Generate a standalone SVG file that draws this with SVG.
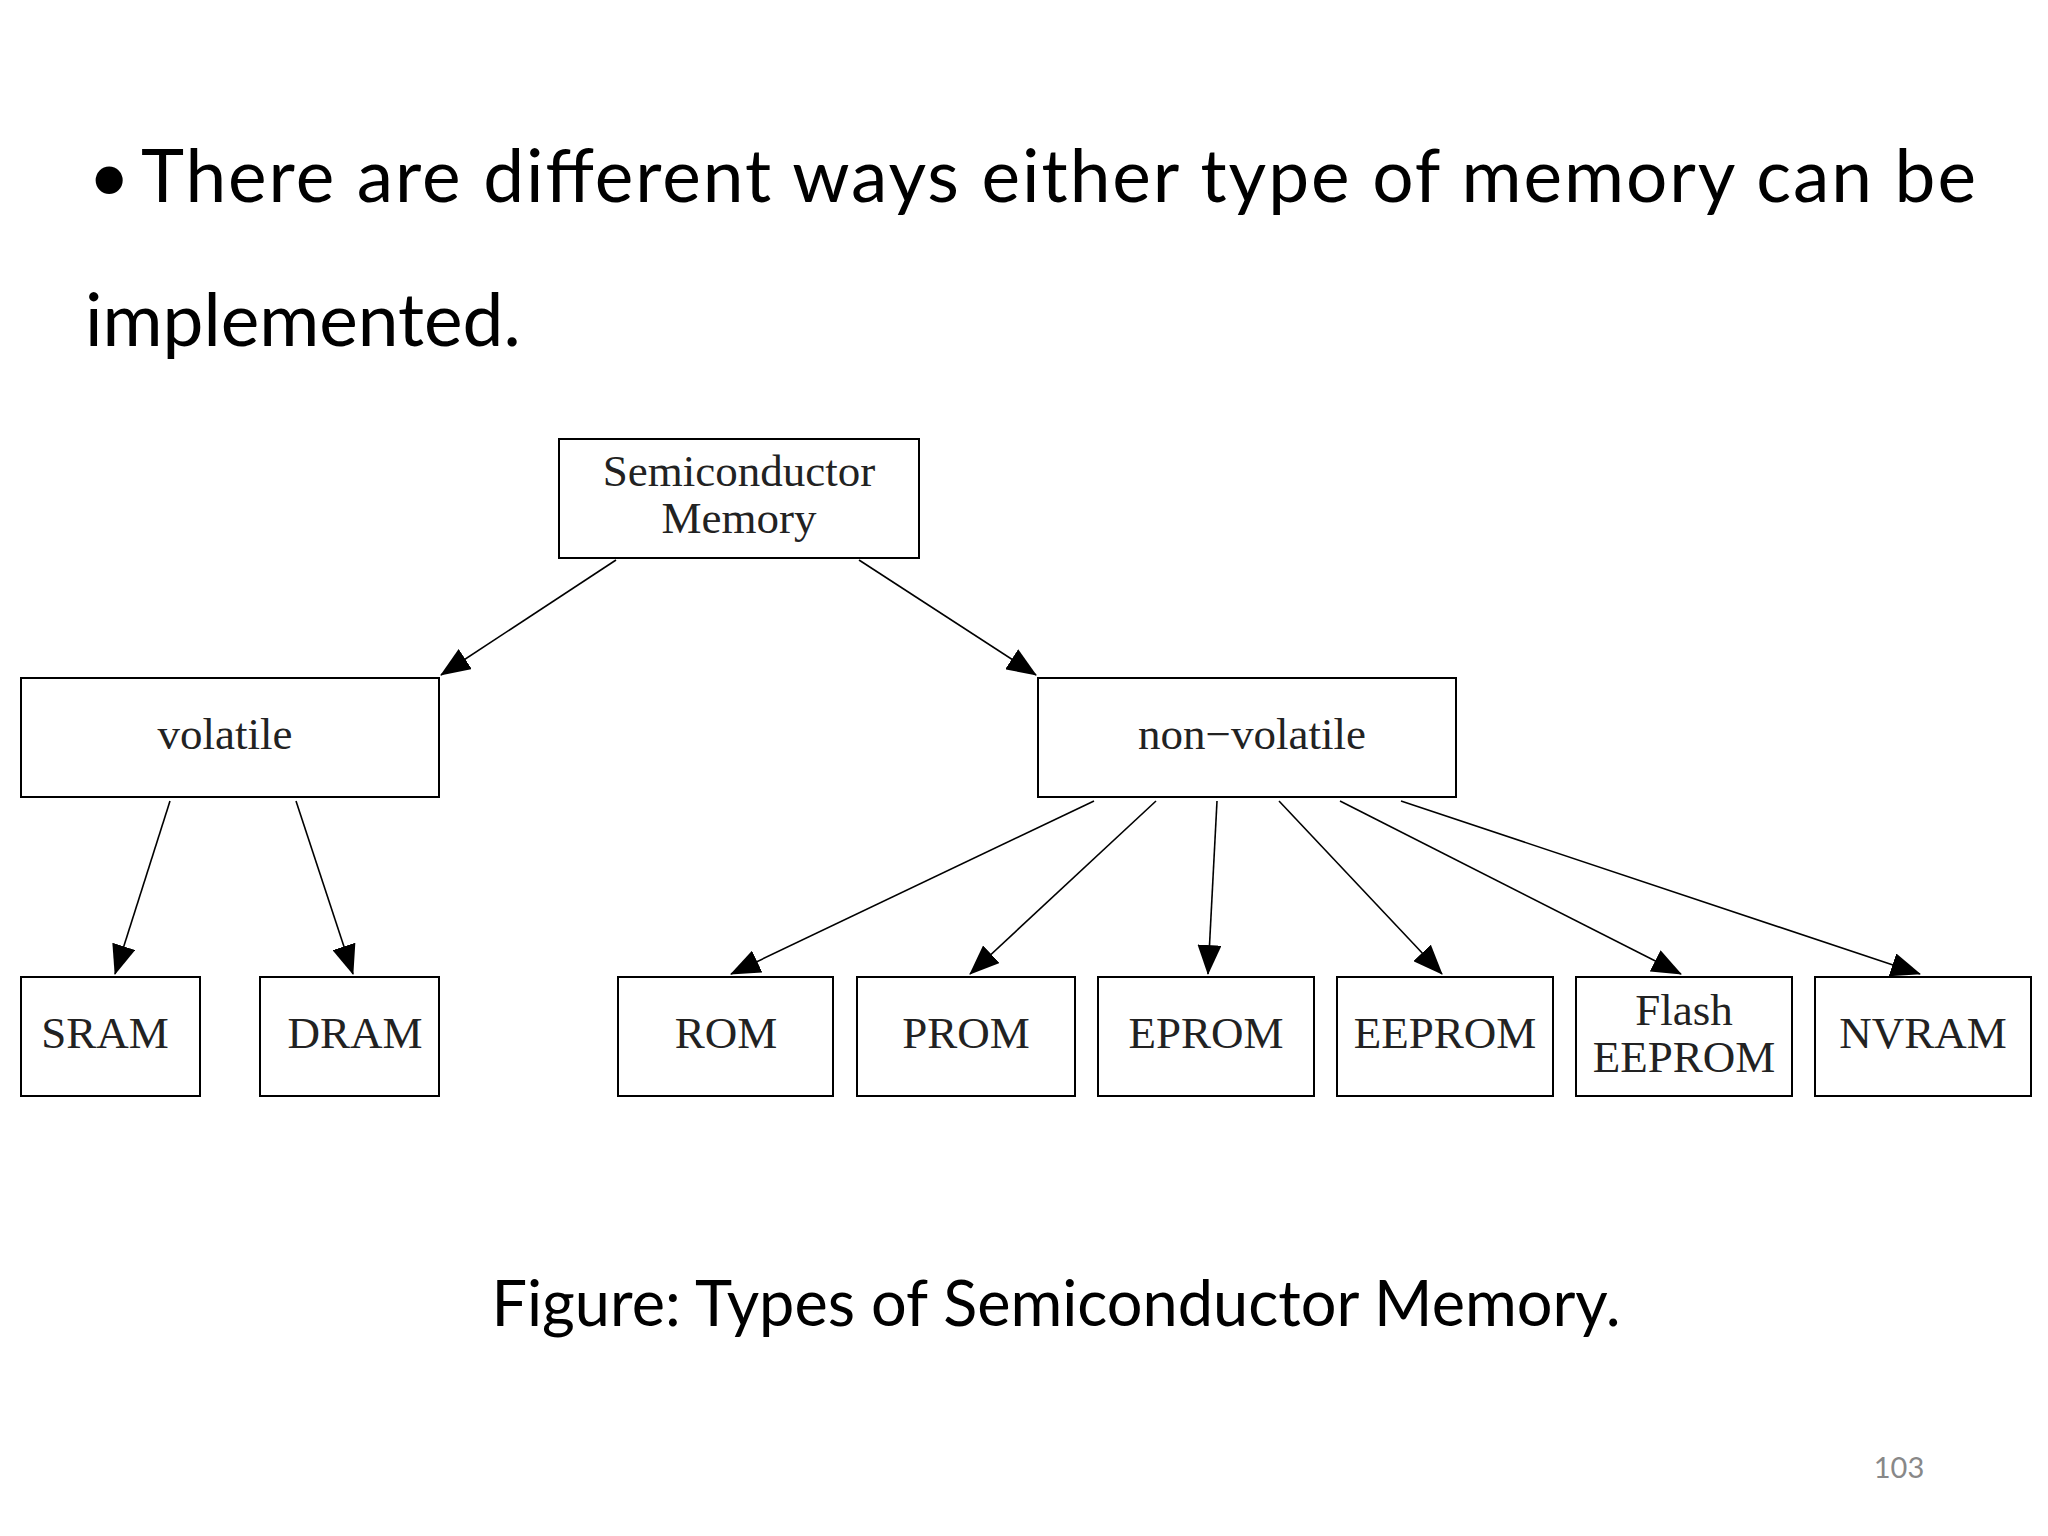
<svg xmlns="http://www.w3.org/2000/svg" width="2048" height="1536" viewBox="0 0 2048 1536">
<style>
.b{fill:#fff;stroke:#000;stroke-width:2}
.t{font-family:"Liberation Serif",serif;font-size:45px;fill:#222;text-anchor:middle}
.h{font-family:Lato,"Open Sans",sans-serif;fill:#000}
.c line{stroke:#000;stroke-width:1.6;marker-end:url(#a)}
</style>
<defs><marker id="a" markerWidth="12" markerHeight="10" refX="11" refY="5" orient="auto" markerUnits="userSpaceOnUse" viewBox="0 0 12 10"><path d="M0,0L12,5L0,10z" fill="#000"/></marker>
<marker id="a2" markerWidth="30" markerHeight="24" refX="29" refY="12" orient="auto" markerUnits="userSpaceOnUse"><path d="M0,0L30,12L0,24z" fill="#000"/></marker></defs>
<rect width="2048" height="1536" fill="#fff"/>
<text class="h" x="88" y="202" font-size="73">•</text>
<text class="h" x="141" y="202" font-size="73" textLength="1835" lengthAdjust="spacing">There are different ways either type of memory can be</text>
<text class="h" x="85" y="346" font-size="73">implemented.</text>
<g class="c" id="connectors">
<line x1="616" y1="560" x2="441" y2="675" style="marker-end:url(#a2)"/>
<line x1="859" y1="560" x2="1036" y2="675" style="marker-end:url(#a2)"/>
<line x1="170" y1="801" x2="115" y2="974" style="marker-end:url(#a2)"/>
<line x1="296" y1="801" x2="353" y2="974" style="marker-end:url(#a2)"/>
<line x1="1094" y1="801" x2="731" y2="974" style="marker-end:url(#a2)"/>
<line x1="1156" y1="801" x2="970" y2="974" style="marker-end:url(#a2)"/>
<line x1="1217" y1="801" x2="1208" y2="974" style="marker-end:url(#a2)"/>
<line x1="1279" y1="801" x2="1442" y2="974" style="marker-end:url(#a2)"/>
<line x1="1340" y1="801" x2="1681" y2="974" style="marker-end:url(#a2)"/>
<line x1="1401" y1="801" x2="1920" y2="974" style="marker-end:url(#a2)"/>
</g>
<g id="semi"><rect class="b" x="559" y="439" width="360" height="119"/><text class="t" x="739" y="486">Semiconductor</text><text class="t" x="739" y="533">Memory</text></g>
<g id="volatile"><rect class="b" x="21" y="678" width="418" height="119"/><text class="t" x="225" y="749">volatile</text></g>
<g id="nonvolatile"><rect class="b" x="1038" y="678" width="418" height="119"/><text class="t" x="1252" y="749">non−volatile</text></g>
<g id="sram"><rect class="b" x="21" y="977" width="179" height="119"/><text class="t" x="105" y="1048">SRAM</text></g>
<g id="dram"><rect class="b" x="260" y="977" width="179" height="119"/><text class="t" x="355" y="1048">DRAM</text></g>
<g id="rom"><rect class="b" x="618" y="977" width="215" height="119"/><text class="t" x="726" y="1048">ROM</text></g>
<g id="prom"><rect class="b" x="857" y="977" width="218" height="119"/><text class="t" x="966" y="1048">PROM</text></g>
<g id="eprom"><rect class="b" x="1098" y="977" width="216" height="119"/><text class="t" x="1206" y="1048">EPROM</text></g>
<g id="eeprom"><rect class="b" x="1337" y="977" width="216" height="119"/><text class="t" x="1445" y="1048">EEPROM</text></g>
<g id="flash"><rect class="b" x="1576" y="977" width="216" height="119"/><text class="t" x="1684" y="1025">Flash</text><text class="t" x="1684" y="1072">EEPROM</text></g>
<g id="nvram"><rect class="b" x="1815" y="977" width="216" height="119"/><text class="t" x="1923" y="1048">NVRAM</text></g>
<text class="h" x="1056" y="1326" font-size="63" text-anchor="middle">Figure: Types of Semiconductor Memory.</text>
<text class="h" x="1899" y="1478" font-size="29" text-anchor="middle" fill="#888" style="fill:#888">103</text>
</svg>
